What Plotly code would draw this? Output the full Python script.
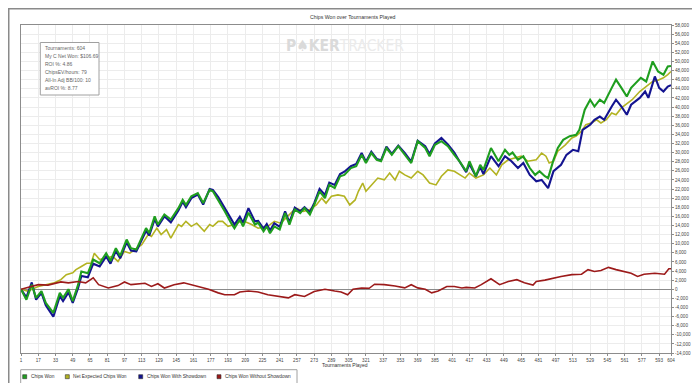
import plotly.graph_objects as go

# ---------------- data (tournament, chips) ----------------
chips_won = [(1,0),(6,-2300),(11,1000),(15,-1900),(20,-400),(24,-3000),(31,-5200),(37,-800),(40,-1900),(45,0),(49,-2600),(54,1000),(57,3900),(63,3500),(68,6500),(74,5700),(80,7900),(84,6200),(89,9000),(93,7300),(99,10900),(103,9000),(108,8700),(113,11200),(117,13400),(120,12300),(125,16000),(128,14200),(134,16400),(140,15300),(147,17800),(151,19600),(154,18500),(159,20400),(165,21100),(170,18900),(176,21800),(179,21500),(184,19600),(190,17100),(196,14500),(199,13400),(204,15300),(207,13800),(212,16800),(218,14200),(221,14600),(226,12700),(229,13800),(232,12300),(236,13800),(241,13100),(246,16700),(250,14200),(255,17500),(260,16700),(264,17800),(269,16400),(273,18500),(278,21500),(283,20000),(287,22900),(292,22200),(297,24800),(301,25100),(307,26600),(312,27000),(317,29500),(321,27700),(326,29900),(331,28400),(335,28100),(340,31000),(345,29500),(351,31400),(357,29500),(363,27700),(369,32500),(376,31000),(380,29200),(385,31700),(391,32500),(397,31400),(403,29500),(408,28000),(414,25900),(417,28100),(423,24800),(427,27300),(430,26200),(437,31000),(444,28100),(450,30600),(454,29500),(457,30000),(462,28400),(467,29200),(473,26600),(478,25100),(482,25900),(487,24800),(490,24400),(495,28400),(499,31000),(504,32800),(510,33600),(516,33900),(519,35000),(524,39400),(529,41600),(533,40100),(538,41600),(542,40900),(549,44200),(553,46000),(558,44200),(563,42300),(567,44200),(573,45600),(576,46400),(581,45600),(587,50000),(592,47800),(597,47100),(601,48900),(604,49000)]

net_expected = [(1,0),(7,-400),(17,600),(26,1000),(32,1400),(38,2100),(43,3200),(49,3600),(52,4300),(57,5000),(62,5700),(66,5700),(69,7900),(74,6500),(80,6800),(86,7200),(91,6100),(97,8300),(102,7900),(108,9000),(113,9800),(119,12000),(122,11600),(127,13400),(131,12000),(136,13100),(140,11200),(147,14200),(150,13800),(154,14900),(159,13800),(164,14500),(167,13800),(171,12700),(176,14200),(179,13800),(184,14900),(188,14900),(193,13800),(199,14200),(205,14900),(208,14900),(215,14200),(221,13400),(230,13800),(236,14900),(242,14500),(250,16400),(256,17800),(263,17100),(269,17500),(275,18500),(280,20000),(284,18900),(289,20400),(295,20700),(301,20400),(306,18500),(311,19600),(314,21500),(318,23300),(321,21500),(326,22900),(332,24400),(338,24000),(343,25500),(348,24000),(352,25900),(357,25100),(363,24400),(369,25900),(374,25100),(380,23300),(386,22900),(391,24800),(397,26200),(403,25900),(408,25100),(413,24400),(417,25500),(423,24400),(430,25100),(436,26600),(442,25100),(447,27300),(453,28400),(459,28800),(465,29200),(471,28100),(479,28400),(484,29900),(488,29200),(491,27700),(495,28100),(499,30300),(506,31700),(512,33200),(516,33600),(521,34700),(525,36100),(530,36500),(535,37200),(539,36500),(544,37200),(549,38700),(553,38300),(558,39800),(564,40900),(568,41600),(575,43400),(581,44500),(587,45600),(592,45900),(597,46400),(601,47100),(604,47800)]

with_showdown = [(1,0),(6,-1800),(11,1500),(15,-2300),(20,-800),(24,-3500),(31,-6000),(37,-1500),(40,-2600),(45,-700),(49,-3000),(54,300),(57,2900),(63,2600),(68,5600),(74,5000),(80,7200),(84,5600),(89,8400),(93,6800),(99,10300),(103,8500),(108,8300),(113,10800),(117,12800),(120,11800),(125,15400),(128,13800),(134,16000),(140,14700),(147,17300),(151,19200),(154,18000),(159,20000),(165,20800),(170,18600),(176,22000),(179,21800),(184,20200),(190,17800),(196,15300),(199,14200),(204,15900),(207,14600),(212,17800),(218,14900),(221,15000),(226,13300),(229,14300),(232,12900),(236,14500),(241,13700),(246,17100),(250,14700),(255,17900),(260,17100),(264,18000),(269,16900),(273,18900),(278,22000),(283,20700),(287,23400),(292,22900),(297,25300),(301,25800),(307,27000),(312,27500),(317,29900),(321,28000),(326,30200),(331,28600),(335,28300),(340,31300),(345,29700),(351,31500),(357,29900),(363,28000),(369,32600),(376,31400),(380,29700),(385,32000),(391,33200),(397,31800),(403,30000),(408,28000),(414,25700),(417,27500),(423,24800),(427,26800),(430,25300),(437,29200),(444,27000),(450,29200),(456,28100),(462,26600),(467,27700),(473,25100),(479,23700),(484,24000),(490,22200),(495,25900),(502,27300),(507,29500),(513,30600),(518,30300),(522,35000),(529,36100),(533,37200),(538,37900),(542,37200),(549,40100),(553,41600),(558,40100),(563,38300),(567,40500),(575,42000),(580,43400),(583,42000),(589,46700),(593,44200),(597,43400),(601,44500),(604,44800)]

without_showdown = [(1,0),(6,300),(17,1000),(26,900),(38,1600),(45,1400),(54,1700),(61,1400),(68,2500),(73,1000),(82,260),(91,800),(97,1600),(103,1000),(108,1100),(116,1300),(122,600),(128,1200),(134,260),(143,1000),(152,1400),(158,1000),(165,600),(175,0),(184,-800),(190,-1200),(199,-1200),(204,-600),(212,-400),(221,-600),(230,-1200),(239,-1600),(249,-1900),(255,-1200),(264,-1600),(273,-500),(283,0),(292,-400),(298,-600),(304,-1200),(309,0),(317,260),(324,200),(329,1100),(338,1000),(348,700),(357,300),(363,1000),(369,300),(376,0),(382,-800),(388,-400),(396,600),(403,600),(410,260),(414,400),(422,260),(428,1000),(437,2300),(445,1000),(453,1700),(461,2100),(468,1400),(476,900),(479,1700),(487,2000),(495,2500),(502,2800),(512,3200),(521,3300),(527,4300),(533,3900),(539,4100),(546,4800),(553,4300),(561,3900),(567,3500),(573,2800),(579,3300),(589,3500),(598,3300),(602,4500),(604,4500)]

series_names = ["Chips Won", "Net Expected Chips Won", "Chips Won With Showdown", "Chips Won Without Showdown"]
series_colors = ["#1f9e1f", "#b3b322", "#141490", "#9c1a1a"]

x_ticks = list(range(1, 594, 16)) + [604]
y_ticks = list(range(-14000, 58001, 2000))
y_ticktext = [f"{v:,}" for v in y_ticks]

stats_lines = ["Tournaments: 604", "My C Net Won: $106.69", "ROI %: 4.86",
               "ChipsEV/hours: 79", "All-In Adj BB/100: 10", "avROI %: 8.77"]

# ---------------- figure ----------------
FONT = "Liberation Sans, Arial, sans-serif"
L, R, T, B = 13, 663, 17, 345
W, H = 700, 383
pw, ph = R - L, B - T

def px(x):
    return (x - L) / pw

def py(y):
    return (B - y) / ph

fig = go.Figure()
data_map = {
    "Chips Won": chips_won,
    "Net Expected Chips Won": net_expected,
    "Chips Won With Showdown": with_showdown,
    "Chips Won Without Showdown": without_showdown,
}
widths = {"Chips Won": 2.1, "Net Expected Chips Won": 1.6,
          "Chips Won With Showdown": 2.1, "Chips Won Without Showdown": 1.6}
draw_order = ["Net Expected Chips Won", "Chips Won With Showdown", "Chips Won", "Chips Won Without Showdown"]
for name in draw_order:
    pts = data_map[name]
    col = series_colors[series_names.index(name)]
    fig.add_trace(go.Scatter(x=[p[0] for p in pts], y=[p[1] for p in pts], mode="lines",
                             name=name, line=dict(color=col, width=widths[name]),
                             showlegend=False))

shapes = []
annotations = []

# outer frame
shapes.append(dict(type="rect", xref="paper", yref="paper",
                   x0=px(0.75), x1=px(699.25), y0=py(382.25), y1=py(0.75),
                   line=dict(color="#8a8a8a", width=1.5), fillcolor="rgba(0,0,0,0)", layer="above"))

# title
annotations.append(dict(text="Chips Won over Tournaments Played", xref="paper", yref="paper",
                        x=px(345), y=py(9), xanchor="center", yanchor="middle", showarrow=False,
                        font=dict(size=5.2, color="#333", family=FONT)))
# x axis title
annotations.append(dict(text="Tournaments Played", xref="paper", yref="paper",
                        x=px(337), y=py(356.5), xanchor="center", yanchor="middle", showarrow=False,
                        font=dict(size=5.0, color="#333", family=FONT)))
# watermark
annotations.append(dict(text="<b>P♠KER</b><span style='color:#ebebeb'>TRACKER</span>", xref="paper", yref="paper",
                        x=px(337), y=py(38), xanchor="center", yanchor="middle", showarrow=False,
                        font=dict(size=15.5, color="#dadada", family="Liberation Sans Narrow, DejaVu Sans Condensed, sans-serif")))
# axis symbol at right
annotations.append(dict(text="≈", xref="paper", yref="paper", x=px(687), y=py(181),
                        xanchor="center", yanchor="middle", showarrow=False,
                        font=dict(size=6, color="#555", family=FONT)))

# stats box
shapes.append(dict(type="rect", xref="paper", yref="paper",
                   x0=px(32.3), x1=px(91), y0=py(87), y1=py(34.5),
                   line=dict(color="#a0a0a0", width=1), fillcolor="white", layer="above"))
for i, line in enumerate(stats_lines):
    annotations.append(dict(text=line, xref="paper", yref="paper", x=px(35), y=py(40 + i * 8.05),
                            xanchor="left", yanchor="middle", showarrow=False,
                            font=dict(size=5.0, color="#666", family=FONT)))

# legend (manual)
shapes.append(dict(type="rect", xref="paper", yref="paper",
                   x0=px(12.7), x1=px(289), y0=py(375.7), y1=py(361.7),
                   line=dict(color="#a0a0a0", width=1), fillcolor="white"))
leg_sq_x = [16.7, 59.3, 132.7, 211]
for name, sx in zip(series_names, leg_sq_x):
    col = series_colors[series_names.index(name)]
    shapes.append(dict(type="rect", xref="paper", yref="paper",
                       x0=px(sx - 2), x1=px(sx + 2), y0=py(370.7), y1=py(366.7),
                       line=dict(color="#333", width=0.6), fillcolor=col))
    annotations.append(dict(text=name, xref="paper", yref="paper", x=px(sx + 4), y=py(368.7),
                            xanchor="left", yanchor="middle", showarrow=False,
                            font=dict(size=4.8, color="#333", family=FONT)))

fig.update_layout(
    width=W, height=H,
    margin=dict(l=L, r=W - R, t=T, b=H - B, pad=0),
    paper_bgcolor="white", plot_bgcolor="white",
    showlegend=False,
    shapes=shapes, annotations=annotations,
    font=dict(family=FONT, size=4.5, color="#444"),
    xaxis=dict(range=[1, 604], tickvals=x_ticks, ticktext=[str(v) for v in x_ticks],
               showgrid=True, gridcolor="#ececec", gridwidth=1,
               showline=True, linecolor="#8c8c8c", linewidth=1, mirror=True,
               ticks="outside", ticklen=2, tickcolor="#8c8c8c",
               tickfont=dict(size=4.6, color="#444", family=FONT),
               zeroline=False, automargin=False, fixedrange=True),
    yaxis=dict(range=[-14000, 58000], tickvals=y_ticks, ticktext=y_ticktext, side="right",
               showgrid=True, gridcolor="#ececec", gridwidth=1,
               showline=True, linecolor="#8c8c8c", linewidth=1, mirror=True,
               ticks="outside", ticklen=2, tickcolor="#8c8c8c",
               tickfont=dict(size=4.6, color="#444", family=FONT),
               zeroline=True, zerolinecolor="#8a8a8a", zerolinewidth=1,
               automargin=False, fixedrange=True),
)

fig.write_html("out.html")
